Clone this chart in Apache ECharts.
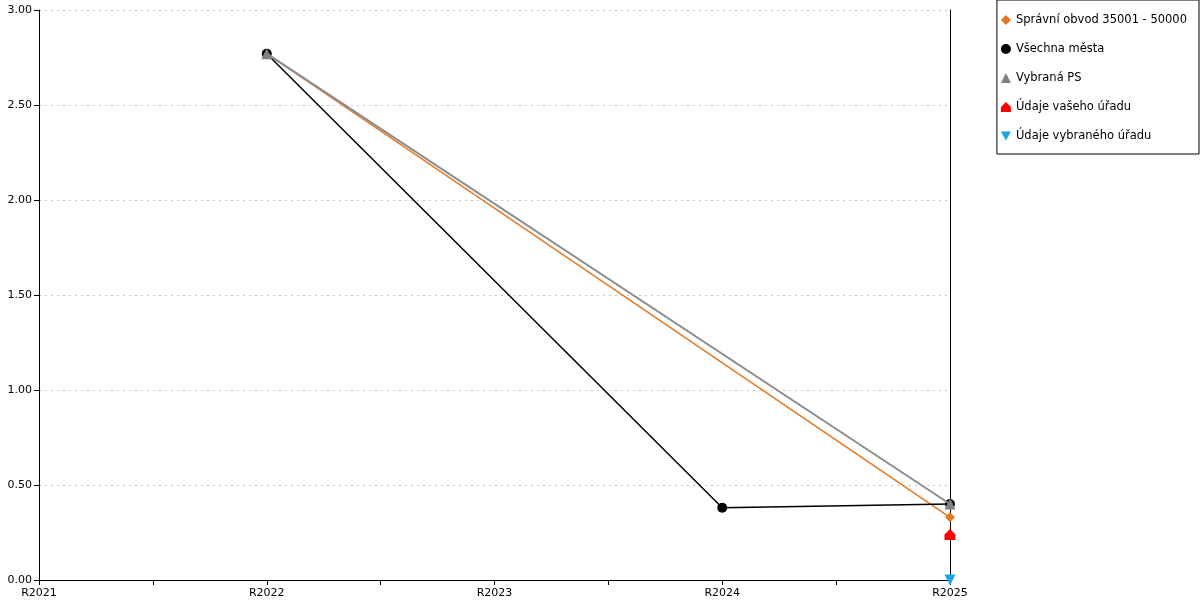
<!DOCTYPE html>
<html><head><meta charset="utf-8">
<script src="https://cdn.jsdelivr.net/npm/echarts@6/dist/echarts.min.js"></script>
<style>html,body{margin:0;padding:0;background:#fff}#c{width:1200px;height:600px}</style>
</head><body><div id="c"></div>
<script>
const categories = ['R2021','R2022','R2023','R2024','R2025'];
const spravniObvod = [null, 2.77, null, null, 0.33];
const vsechnaMesta = [null, 2.77, null, 0.38, 0.40];
const vybranaPS = [null, 2.77, null, null, 0.40];
const vasUrad = [null, null, null, null, 0.24];
const vybranyUrad = [null, null, null, null, 0.00];
const yTicks = [0, 0.5, 1, 1.5, 2, 2.5, 3];

function pts(arr){ const r=[]; arr.forEach((v,i)=>{ if(v!==null) r.push([i,v]); }); return r; }

const font = 'DejaVu Sans';
const house = 'path://M0,5 L5,0 L10,5 L10,10 L0,10 Z';
const downTri = 'path://M0,0 L10,0 L5,9 Z';

const chart = echarts.init(document.getElementById('c'));
chart.setOption({
  animation:false,
  textStyle:{fontFamily:font},
  grid:{left:39,right:250,top:10,bottom:20,containLabel:false},
  legend:{
    orient:'vertical', right:1, top:0,
    padding:[14,12,12,4], itemGap:17,
    borderColor:'#000', borderWidth:1,
    itemWidth:10, itemHeight:10,
    textStyle:{fontFamily:font, fontSize:11.5, color:'#000'},
    data:[
      {name:'Správní obvod 35001 - 50000', icon:'diamond'},
      {name:'Všechna města', icon:'circle'},
      {name:'Vybraná PS', icon:'triangle'},
      {name:'Údaje vašeho úřadu', icon:house},
      {name:'Údaje vybraného úřadu', icon:downTri}
    ]
  },
  xAxis:{
    type:'value', min:0, max:categories.length-1, interval:0.5,
    axisLine:{show:true,lineStyle:{color:'#000'}},
    axisTick:{show:true,length:5,lineStyle:{color:'#000'}},
    splitLine:{show:false},
    axisLabel:{color:'#000',fontSize:11,margin:8,fontFamily:font,
      formatter:v=>Number.isInteger(v)?categories[v]:''}
  },
  yAxis:[{
    type:'value', min:yTicks[0], max:yTicks[yTicks.length-1], interval:0.5,
    axisLine:{show:true,lineStyle:{color:'#000'}},
    axisTick:{show:true,length:5,lineStyle:{color:'#000'}},
    splitLine:{show:true,lineStyle:{color:'#c4c4c4',type:[2,4]}},
    axisLabel:{color:'#000',fontSize:11,margin:7,fontFamily:font,formatter:v=>v.toFixed(2)}
  },{
    type:'value', position:'right', min:0, max:3, interval:0.5,
    axisLine:{show:true,lineStyle:{color:'#000'}},
    axisTick:{show:false}, axisLabel:{show:false}, splitLine:{show:false}
  }],
  series:[
    {name:'Správní obvod 35001 - 50000', type:'line', data:pts(spravniObvod),
     symbol:'diamond', symbolSize:10, connectNulls:true, z:3,
     itemStyle:{color:'#e87722'}, lineStyle:{color:'#e87722',width:1.5}},
    {name:'Všechna města', type:'line', data:pts(vsechnaMesta),
     symbol:'circle', symbolSize:10, connectNulls:true, z:4,
     itemStyle:{color:'#000'}, lineStyle:{color:'#000',width:1.5}},
    {name:'Vybraná PS', type:'line', data:pts(vybranaPS),
     symbol:'triangle', symbolSize:11, connectNulls:true, z:5,
     itemStyle:{color:'#808080'}, lineStyle:{color:'#8c8c8c',width:2}},
    {name:'Údaje vašeho úřadu', type:'line', data:pts(vasUrad),
     symbol:house, symbolSize:11, z:6,
     itemStyle:{color:'#ff0000'}, lineStyle:{color:'#ff0000'}},
    {name:'Údaje vybraného úřadu', type:'line', data:pts(vybranyUrad),
     symbol:downTri, symbolSize:11, z:7,
     itemStyle:{color:'#1aa6e4'}, lineStyle:{color:'#1aa6e4'}}
  ]
});
</script></body></html>
